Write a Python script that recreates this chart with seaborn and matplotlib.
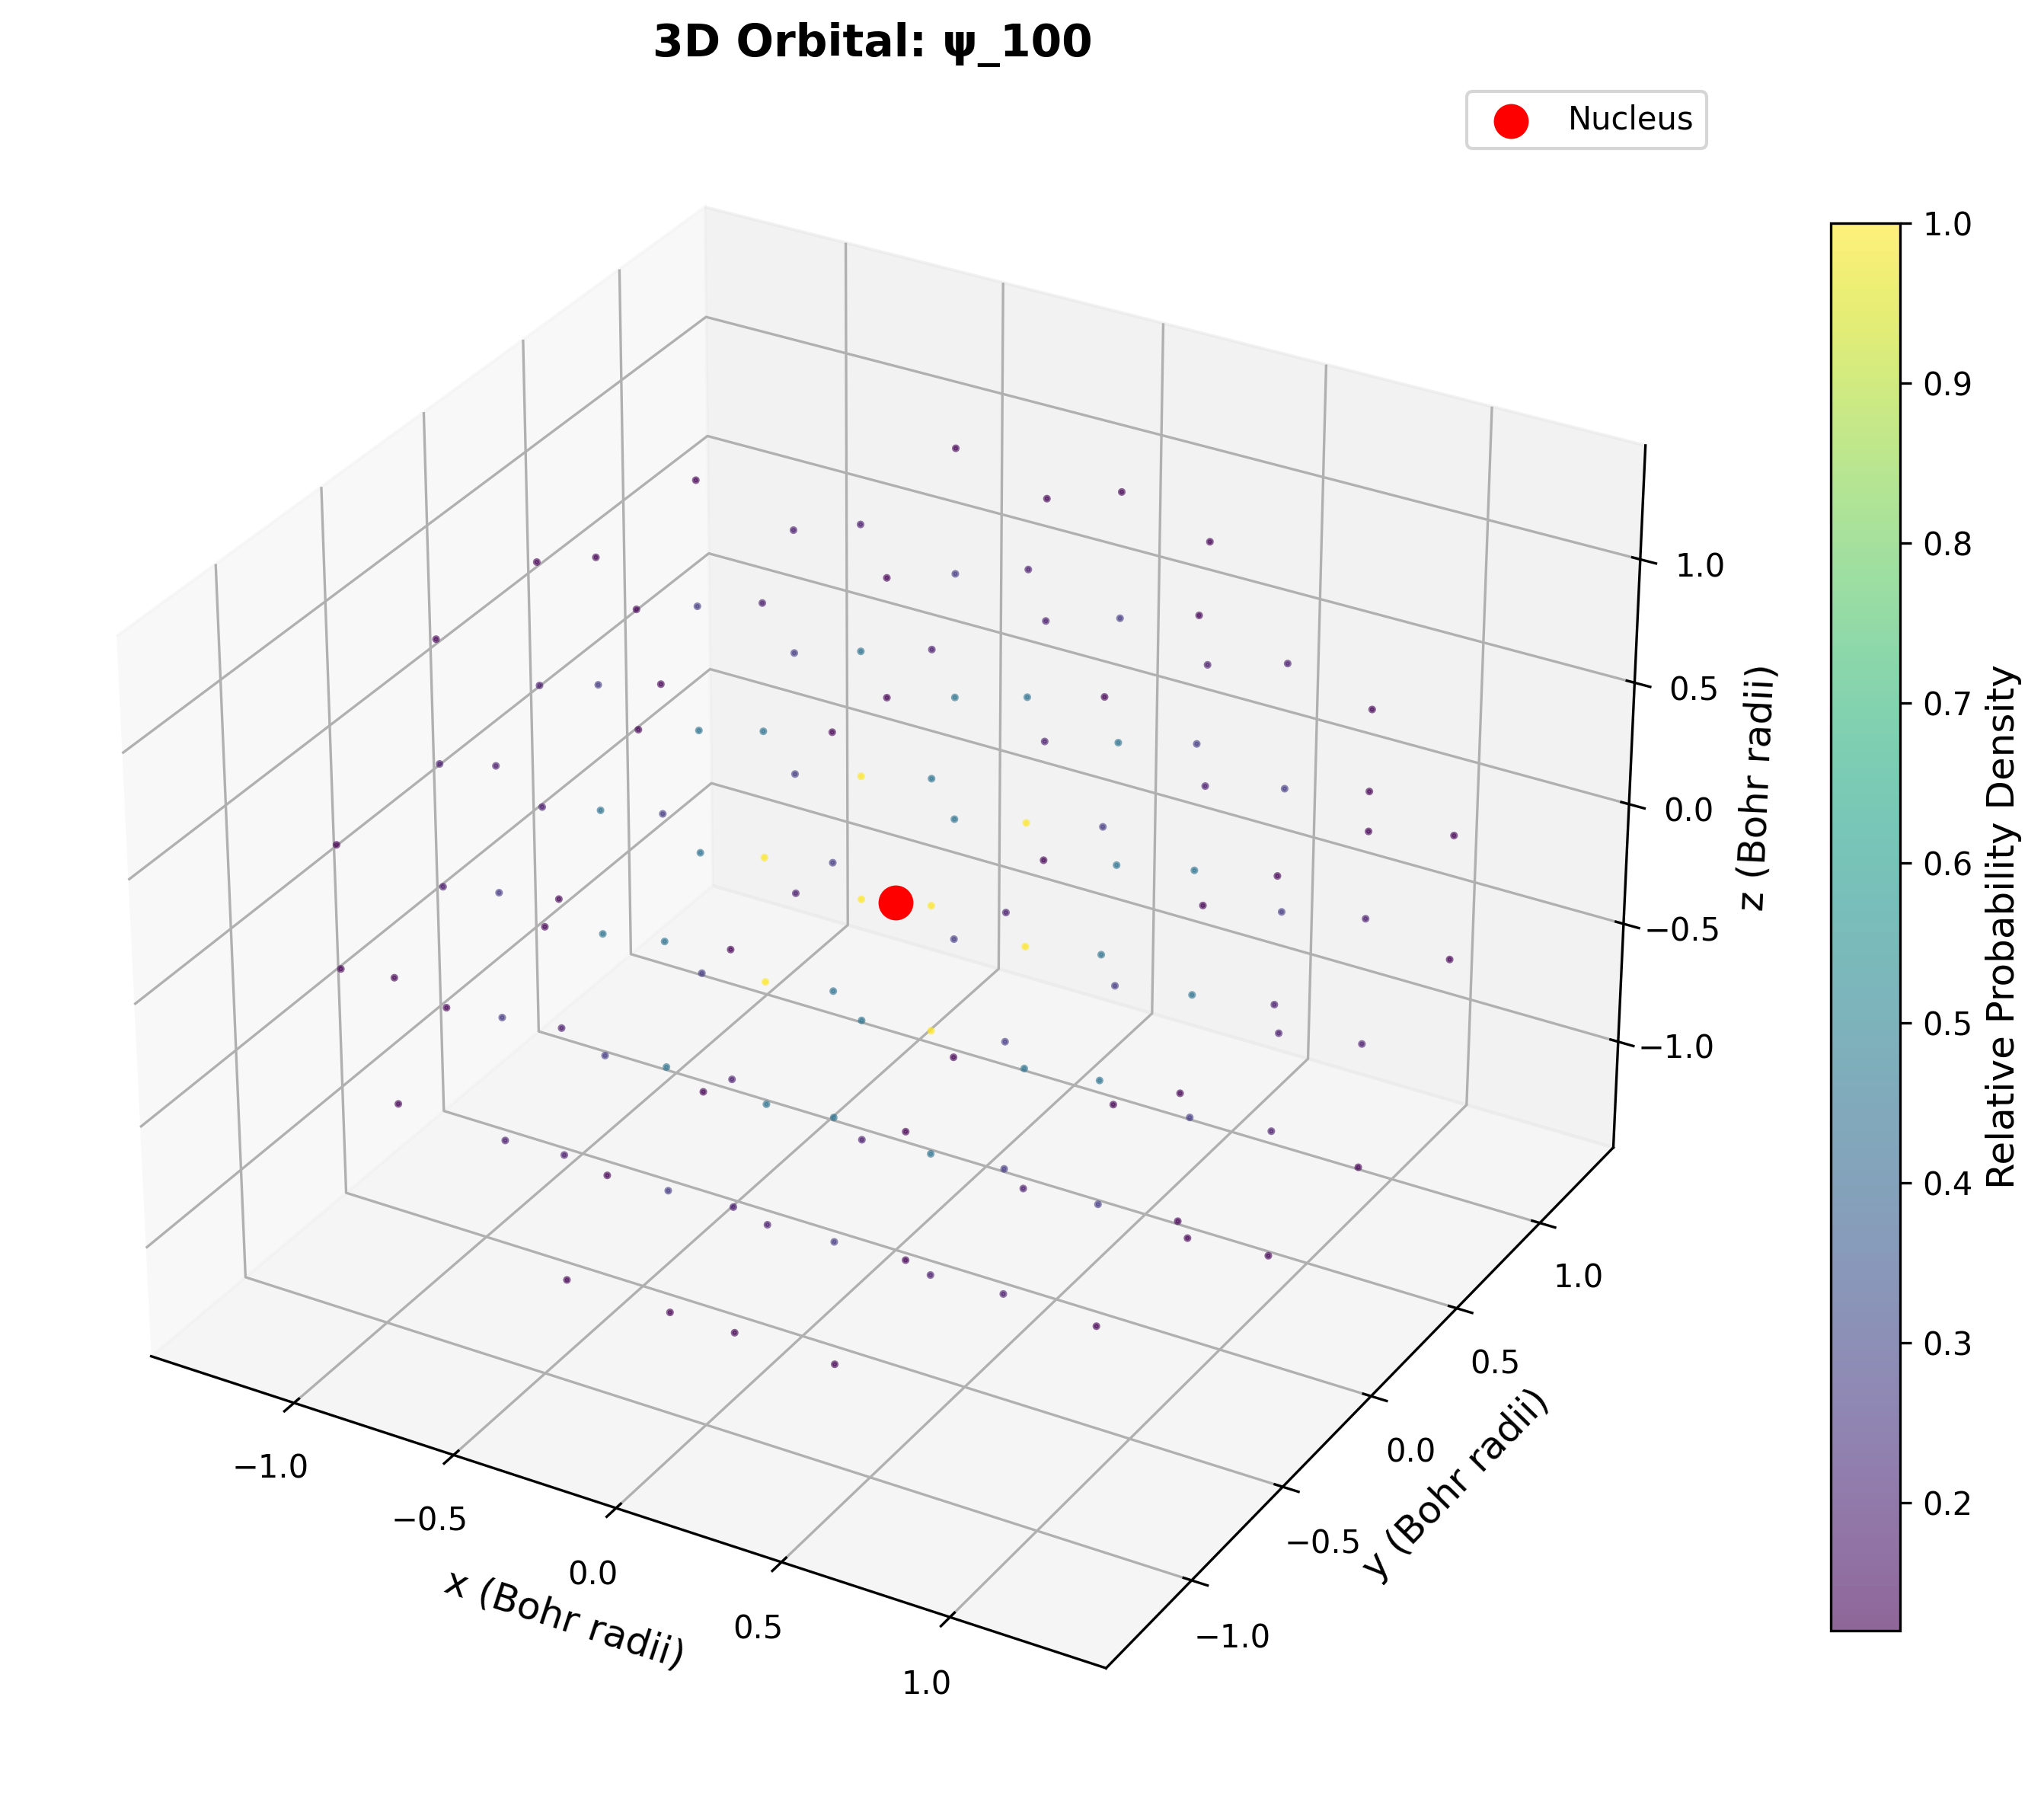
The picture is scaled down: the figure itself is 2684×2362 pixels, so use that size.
import matplotlib
matplotlib.use("Agg")
import matplotlib.pyplot as plt
import seaborn as sns

# grid points, one z layer per block
x_vals = [
    -0.254, -0.254, 0.254, 0.254, -0.254, -0.254, 0.254, 0.254, -0.762, -0.762, 0.762, 0.762,
    -0.254, -0.254, 0.254, 0.254, -0.254, -0.254, 0.254, 0.254, -0.762, -0.762, 0.762, 0.762,
    -0.762, -0.762, 0.762, 0.762, -0.254, -0.254, 0.254, 0.254, -1.27, -1.27, 1.27, 1.27,
    -0.254, -0.254, 0.254, 0.254, -0.254, -0.254, 0.254, 0.254, -0.762, -0.762, 0.762, 0.762,
    -0.762, -0.762, 0.762, 0.762, -0.254, -0.254, 0.254, 0.254, -1.27, -1.27, 1.27, 1.27,
    -0.762, -0.762, 0.762, 0.762, -1.27, -1.27, 1.27, 1.27,
    -0.254, -0.254, 0.254, 0.254, -0.254, -0.254, 0.254, 0.254, -0.762, -0.762, 0.762, 0.762,
    -0.762, -0.762, 0.762, 0.762, -0.254, -0.254, 0.254, 0.254, -1.27, -1.27, 1.27, 1.27,
    -0.762, -0.762, 0.762, 0.762, -1.27, -1.27, 1.27, 1.27,
    -0.254, -0.254, 0.254, 0.254, -0.254, -0.254, 0.254, 0.254, -0.762, -0.762, 0.762, 0.762,
    -0.762, -0.762, 0.762, 0.762, -0.254, -0.254, 0.254, 0.254, -1.27, -1.27, 1.27, 1.27,
    -0.254, -0.254, 0.254, 0.254, -0.254, -0.254, 0.254, 0.254, -0.762, -0.762, 0.762, 0.762,
]
y_vals = [
    -0.254, 0.254, -0.254, 0.254, -0.762, 0.762, -0.762, 0.762, -0.254, 0.254, -0.254, 0.254,
    -0.254, 0.254, -0.254, 0.254, -0.762, 0.762, -0.762, 0.762, -0.254, 0.254, -0.254, 0.254,
    -0.762, 0.762, -0.762, 0.762, -1.27, 1.27, -1.27, 1.27, -0.254, 0.254, -0.254, 0.254,
    -0.254, 0.254, -0.254, 0.254, -0.762, 0.762, -0.762, 0.762, -0.254, 0.254, -0.254, 0.254,
    -0.762, 0.762, -0.762, 0.762, -1.27, 1.27, -1.27, 1.27, -0.254, 0.254, -0.254, 0.254,
    -1.27, 1.27, -1.27, 1.27, -0.762, 0.762, -0.762, 0.762,
    -0.254, 0.254, -0.254, 0.254, -0.762, 0.762, -0.762, 0.762, -0.254, 0.254, -0.254, 0.254,
    -0.762, 0.762, -0.762, 0.762, -1.27, 1.27, -1.27, 1.27, -0.254, 0.254, -0.254, 0.254,
    -1.27, 1.27, -1.27, 1.27, -0.762, 0.762, -0.762, 0.762,
    -0.254, 0.254, -0.254, 0.254, -0.762, 0.762, -0.762, 0.762, -0.254, 0.254, -0.254, 0.254,
    -0.762, 0.762, -0.762, 0.762, -1.27, 1.27, -1.27, 1.27, -0.254, 0.254, -0.254, 0.254,
    -0.254, 0.254, -0.254, 0.254, -0.762, 0.762, -0.762, 0.762, -0.254, 0.254, -0.254, 0.254,
]
z_vals = [
    1.27, 1.27, 1.27, 1.27, 1.27, 1.27, 1.27, 1.27, 1.27, 1.27, 1.27, 1.27,
    0.762, 0.762, 0.762, 0.762, 0.762, 0.762, 0.762, 0.762, 0.762, 0.762, 0.762, 0.762,
    0.762, 0.762, 0.762, 0.762, 0.762, 0.762, 0.762, 0.762, 0.762, 0.762, 0.762, 0.762,
    0.254, 0.254, 0.254, 0.254, 0.254, 0.254, 0.254, 0.254, 0.254, 0.254, 0.254, 0.254,
    0.254, 0.254, 0.254, 0.254, 0.254, 0.254, 0.254, 0.254, 0.254, 0.254, 0.254, 0.254,
    0.254, 0.254, 0.254, 0.254, 0.254, 0.254, 0.254, 0.254,
    -0.254, -0.254, -0.254, -0.254, -0.254, -0.254, -0.254, -0.254, -0.254, -0.254, -0.254, -0.254,
    -0.254, -0.254, -0.254, -0.254, -0.254, -0.254, -0.254, -0.254, -0.254, -0.254, -0.254, -0.254,
    -0.254, -0.254, -0.254, -0.254, -0.254, -0.254, -0.254, -0.254,
    -0.762, -0.762, -0.762, -0.762, -0.762, -0.762, -0.762, -0.762, -0.762, -0.762, -0.762, -0.762,
    -0.762, -0.762, -0.762, -0.762, -0.762, -0.762, -0.762, -0.762, -0.762, -0.762, -0.762, -0.762,
    -1.27, -1.27, -1.27, -1.27, -1.27, -1.27, -1.27, -1.27, -1.27, -1.27, -1.27, -1.27,
]
density = [
    0.18, 0.18, 0.18, 0.18, 0.12, 0.12, 0.12, 0.12, 0.12, 0.12, 0.12, 0.12,
    0.45, 0.45, 0.45, 0.45, 0.27, 0.27, 0.27, 0.27, 0.27, 0.27, 0.27, 0.27,
    0.18, 0.18, 0.18, 0.18, 0.12, 0.12, 0.12, 0.12, 0.12, 0.12, 0.12, 0.12,
    1.0, 1.0, 1.0, 1.0, 0.45, 0.45, 0.45, 0.45, 0.45, 0.45, 0.45, 0.45,
    0.27, 0.27, 0.27, 0.27, 0.18, 0.18, 0.18, 0.18, 0.18, 0.18, 0.18, 0.18,
    0.12, 0.12, 0.12, 0.12, 0.12, 0.12, 0.12, 0.12,
    1.0, 1.0, 1.0, 1.0, 0.45, 0.45, 0.45, 0.45, 0.45, 0.45, 0.45, 0.45,
    0.27, 0.27, 0.27, 0.27, 0.18, 0.18, 0.18, 0.18, 0.18, 0.18, 0.18, 0.18,
    0.12, 0.12, 0.12, 0.12, 0.12, 0.12, 0.12, 0.12,
    0.45, 0.45, 0.45, 0.45, 0.27, 0.27, 0.27, 0.27, 0.27, 0.27, 0.27, 0.27,
    0.18, 0.18, 0.18, 0.18, 0.12, 0.12, 0.12, 0.12, 0.12, 0.12, 0.12, 0.12,
    0.18, 0.18, 0.18, 0.18, 0.12, 0.12, 0.12, 0.12, 0.12, 0.12, 0.12, 0.12,
]

fig = plt.figure(figsize=(2684 / 300, 2362 / 300), dpi=300)
ax = fig.add_axes([-0.0100, 0.0131, 0.874, 0.945], projection="3d")

cmap = sns.color_palette("viridis", as_cmap=True)
sc = ax.scatter(x_vals, y_vals, z_vals, c=density, cmap=cmap, s=2, alpha=0.6)
ax.scatter([0], [0], [0], color="red", s=100, label="Nucleus")

ax.set_xlabel("x (Bohr radii)", fontsize=12)
ax.set_ylabel("y (Bohr radii)", fontsize=12)
ax.set_zlabel("z (Bohr radii)", fontsize=12)
ax.set_title("3D Orbital: ψ_100", fontsize=14, fontweight="bold")
ax.legend()

cax = fig.add_axes([0.8955, 0.0935, 0.034, 0.7825])
cbar = fig.colorbar(sc, cax=cax)
cbar.set_label("Relative Probability Density", fontsize=12)

fig.savefig("out.png", dpi=300)
